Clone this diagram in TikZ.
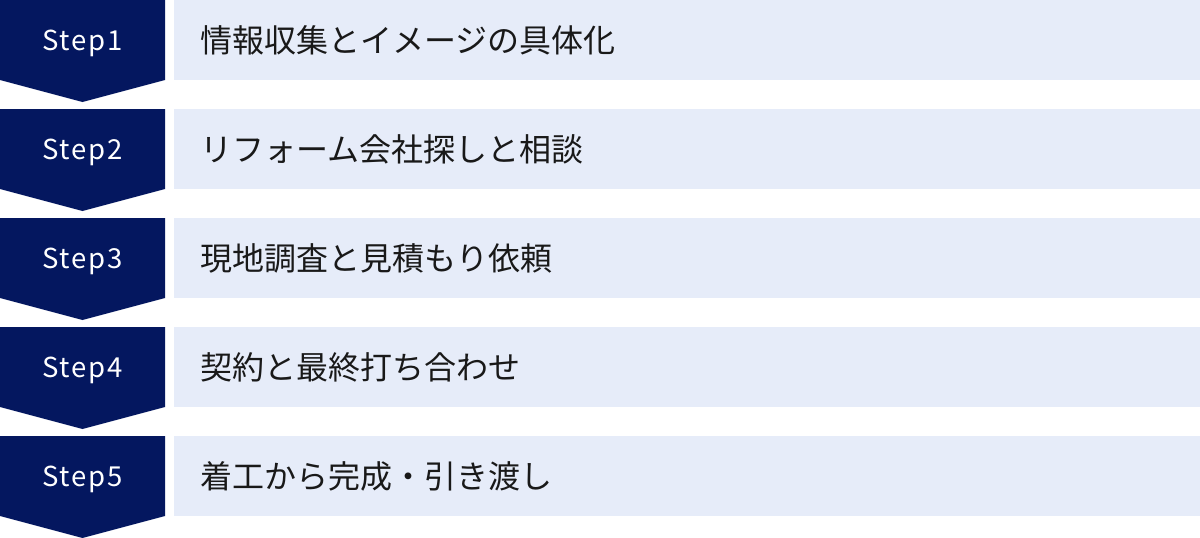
\documentclass[tikz,border=0pt]{standalone}
\usepackage{fontspec}
\newfontfamily\jpfont{Noto Sans CJK JP}
\newfontfamily\stepfont[LetterSpace=7]{Noto Sans CJK JP}
\definecolor{navy}{HTML}{04175F}
\definecolor{paleblue}{HTML}{E6ECF9}
\tikzset{
  steplabel/.style={text=white,font=\stepfont\fontsize{27.5}{27.5}\selectfont},
  steptext/.style={anchor=west,text=black!90,font=\jpfont\fontsize{32}{32}\selectfont}
}

\begin{document}
\begin{tikzpicture}[x=1pt,y=1pt]
    \useasboundingbox (0,0) rectangle (1200,-538);
    \foreach \i/\txt in {1/情報収集とイメージの具体化,2/リフォーム会社探しと相談,3/現地調査と見積もり依頼,4/契約と最終打ち合わせ,5/着工から完成・引き渡し}{
        \pgfmathsetmacro\ytop{-109*(\i-1)}
        \fill[paleblue](174,\ytop) rectangle (1200,\ytop-80);
        \fill[navy](0,\ytop)--(165,\ytop)--(165,\ytop-80)--(82.5,\ytop-102)--(0,\ytop-80)--cycle;
        \node[steplabel] (step\i) at (82.5,\ytop-43) {Step\i};
        \node[steptext] (text\i) at (197,\ytop-40.5) {\txt};
    }
\end{tikzpicture}
\end{document}
